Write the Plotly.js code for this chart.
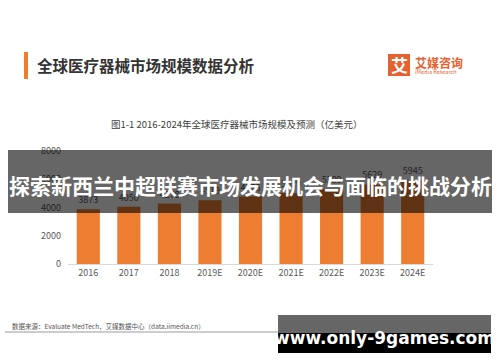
<!DOCTYPE html>
<html>
<head>
<meta charset="utf-8">
<script src="https://cdn.plot.ly/plotly-3.0.1.min.js"></script>
<style>html,body{margin:0;padding:0;background:#fff;}#chart{width:500px;height:362px;}</style>
</head>
<body>
<div id="chart"></div>
<script>
// ---- data ----
const categories = ["2016", "2017", "2018", "2019E", "2020E", "2021E", "2022E", "2023E", "2024E"];
const marketSize = [3873, 4050, 4278, 4519, 4775, 5029, 5309, 5629, 5945];
const yTicks = [0, 2000, 4000, 6000, 8000];

const headerTitle = "全球医疗器械市场规模数据分析";
const chartSubtitle = "图1-1 2016-2024年全球医疗器械市场规模及预测（亿美元）";
const bannerText = "探索新西兰中超联赛市场发展机会与面临的挑战分析";
const sourceText = "数据来源：Evaluate MedTech，艾媒数据中心（data.iimedia.cn）";
const watermark = "www.only-9games.com";

// ---- layout geometry (pixels) ----
const W = 500, H = 362;
const L = 68, R = 433, T = 151, B = 264;
const px = x => (x - L) / (R - L);
const py = y => (B - y) / (B - T);
const FONT = "'Noto Sans CJK SC', 'Noto Sans', sans-serif";

function rect(x0, y0, x1, y1, color, layer) {
  return {type: 'rect', xref: 'paper', yref: 'paper', x0: px(x0), x1: px(x1), y0: py(y1), y1: py(y0),
    fillcolor: color, line: {width: 0}, layer: layer || 'above'};
}
function text(t, x, y, size, color, opts) {
  return Object.assign({text: t, xref: 'paper', yref: 'paper', x: px(x), y: py(y), showarrow: false,
    xanchor: 'left', yanchor: 'middle', font: {family: FONT, size: size, color: color}}, opts || {});
}

const trace = {
  type: 'bar', x: categories, y: marketSize,
  marker: {color: '#ED7D31'},
  text: marketSize.map(String), textposition: 'outside', cliponaxis: false,
  textfont: {family: FONT, size: 9, color: '#595959'},
  hoverinfo: 'none'
};

const layout = {
  width: W, height: H,
  margin: {l: L, r: W - R, t: T, b: H - B, pad: 0},
  paper_bgcolor: '#ffffff', plot_bgcolor: '#ffffff',
  bargap: 0.43,
  showlegend: false,
  xaxis: {type: 'category', showgrid: false, zeroline: false, showline: true, linecolor: '#d9d9d9', linewidth: 1,
    ticks: '', tickfont: {family: FONT, size: 9, color: '#595959'}, fixedrange: true},
  yaxis: {range: [0, 8000], tickvals: yTicks, ticktext: yTicks.map(String), showgrid: false, zeroline: false,
    showline: false, ticks: '', tickfont: {family: FONT, size: 9, color: '#595959'}, ticklabelstandoff: 6, fixedrange: true},
  shapes: [
    rect(24, 52, 28, 79, '#ED7D31'),
    rect(388, 54, 410, 76, '#E5612F'),
    {type: 'line', xref: 'paper', yref: 'paper', x0: px(5), x1: px(300), y0: py(332), y1: py(332), line: {color: '#9a9a9a', width: 1}, layer: 'above'},
    rect(8, 150, 492, 213, 'rgba(0,0,0,0.6)'),
    rect(278, 315, 491, 333, '#666666'),
    rect(278, 333, 491, 353, '#000000')
  ],
  annotations: [
    text(headerTitle, 35, 65, 15.5, '#333333', {font: {family: FONT, size: 15.5, color: '#333333', weight: 'bold'}}),
    text('艾', 399, 65, 17, '#ffffff', {xanchor: 'center', font: {family: FONT, size: 17, color: '#ffffff', weight: 'bold'}}),
    text('艾媒咨询', 413, 62, 12, '#E5612F', {font: {family: FONT, size: 12, color: '#E5612F', weight: 'bold'}}),
    text('iMedia Research', 413, 72, 5.5, '#E5612F'),
    text(chartSubtitle, 236, 124, 9.5, '#404040', {xanchor: 'center'}),
    text(sourceText, 10, 326, 6.5, '#555555'),
    text(bannerText, 250, 185, 21, '#ffffff', {xanchor: 'center', font: {family: FONT, size: 21, color: '#ffffff', weight: 'bold'}}),
    text(watermark, 384, 338, 17, '#ffffff', {xanchor: 'center', font: {family: "'DejaVu Sans', sans-serif", size: 17, color: '#ffffff', weight: 'bold'}})
  ]
};

Plotly.newPlot('chart', [trace], layout, {displayModeBar: false, staticPlot: true});
</script>
</body>
</html>
